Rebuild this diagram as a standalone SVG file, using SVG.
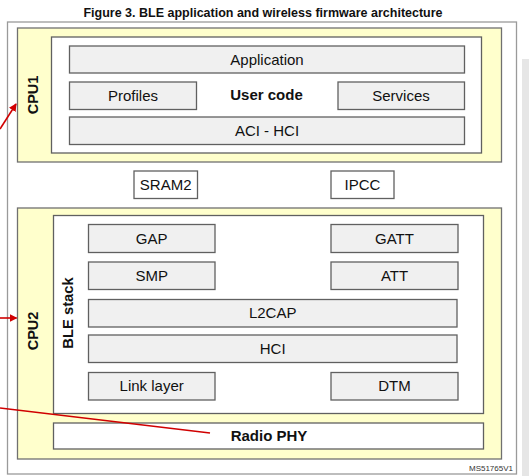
<svg xmlns="http://www.w3.org/2000/svg" width="529" height="476" viewBox="0 0 529 476">
<style>
text{font-family:"Liberation Sans",Arial,sans-serif;fill:#111}
.t{font-size:15px;text-anchor:middle}
.b{font-weight:bold}
.box{fill:#f0f0f0;stroke:#606060;stroke-width:1.3}
.wbox{fill:#ffffff;stroke:#606060;stroke-width:1.3}
.ybox{fill:#ffffcc;stroke:#707070;stroke-width:1.3}
.red{stroke:#d00000;stroke-width:1.6;fill:none}
</style>
<defs>
<marker id="ah" markerWidth="8" markerHeight="8" refX="7" refY="4" orient="auto" markerUnits="userSpaceOnUse">
<path d="M0,0 L8,4 L0,8 z" fill="#d00000"/>
</marker>
</defs>
<rect x="0" y="0" width="529" height="476" fill="#ffffff"/>
<rect x="522" y="59" width="7" height="417" fill="#e6e6e6"/>
<text x="263" y="17" style="font-size:12.5px;text-anchor:middle;font-weight:bold">Figure 3. BLE application and wireless firmware architecture</text>
<rect id="frame" x="7.5" y="22" width="509" height="452" fill="#ffffff" stroke="#9a9a9a" stroke-width="1.3"/>

<g id="cpu1">
<rect class="ybox" x="17.5" y="28" width="484" height="134"/>
<text class="b" transform="translate(38,95) rotate(-90)" style="font-size:14.5px;text-anchor:middle">CPU1</text>
</g>
<g id="usercode">
<rect class="wbox" x="51.5" y="37" width="430" height="116"/>
<text class="t b" x="266.5" y="100">User code</text>
</g>
<g id="application"><rect class="box" x="69.5" y="46" width="395" height="27"/><text class="t" x="267" y="64.5">Application</text></g>
<g id="profiles"><rect class="box" x="69.5" y="82" width="127" height="27.5"/><text class="t" x="133" y="100.5">Profiles</text></g>
<g id="services"><rect class="box" x="338" y="82" width="126.5" height="27.5"/><text class="t" x="401" y="100.5">Services</text></g>
<g id="acihci"><rect class="box" x="69.5" y="117" width="395" height="27.5"/><text class="t" x="267" y="135.5">ACI - HCI</text></g>

<g id="sram2"><rect class="wbox" x="134" y="171" width="63.5" height="27.5"/><text class="t" x="165.7" y="190">SRAM2</text></g>
<g id="ipcc"><rect class="wbox" x="331" y="171" width="63" height="27.5"/><text class="t" x="362.5" y="190">IPCC</text></g>

<g id="cpu2">
<rect class="ybox" x="17.5" y="208" width="484" height="251"/>
<text class="b" transform="translate(38,331) rotate(-90)" style="font-size:14.5px;text-anchor:middle">CPU2</text>
</g>
<g id="blestack">
<rect class="wbox" x="53.5" y="215.5" width="430" height="198"/>
<text class="b" transform="translate(73,313) rotate(-90)" style="font-size:14.8px;text-anchor:middle">BLE stack</text>
</g>
<g id="gap"><rect class="box" x="88.5" y="224.5" width="126.5" height="28"/><text class="t" x="151.7" y="243.5">GAP</text></g>
<g id="gatt"><rect class="box" x="331" y="224.5" width="127" height="28"/><text class="t" x="394.5" y="243.5">GATT</text></g>
<g id="smp"><rect class="box" x="88.5" y="262" width="126.5" height="27.5"/><text class="t" x="151.7" y="280.8">SMP</text></g>
<g id="att"><rect class="box" x="331" y="262" width="127" height="27.5"/><text class="t" x="394.5" y="280.8">ATT</text></g>
<g id="l2cap"><rect class="box" x="88.5" y="299.5" width="368.5" height="27.5"/><text class="t" x="272.7" y="318.3">L2CAP</text></g>
<g id="hci"><rect class="box" x="88.5" y="335" width="368.5" height="27.5"/><text class="t" x="272.7" y="354">HCI</text></g>
<g id="linklayer"><rect class="box" x="88.5" y="372.5" width="126.5" height="27.5"/><text class="t" x="151.7" y="391.3">Link layer</text></g>
<g id="dtm"><rect class="box" x="331" y="372.5" width="127" height="27.5"/><text class="t" x="394.5" y="391.3">DTM</text></g>
<g id="radiophy"><rect class="wbox" x="53.5" y="423" width="430" height="26"/><text class="t b" x="269" y="441">Radio PHY</text></g>

<text x="513" y="471" style="font-size:8px;text-anchor:end;fill:#333">MS51765V1</text>

<g id="connectors">
<line class="red" x1="0" y1="129" x2="16" y2="104" marker-end="url(#ah)"/>
<line class="red" x1="0" y1="318" x2="16.5" y2="318" marker-end="url(#ah)"/>
<line class="red" x1="0" y1="408" x2="210" y2="433"/>
</g>
</svg>
